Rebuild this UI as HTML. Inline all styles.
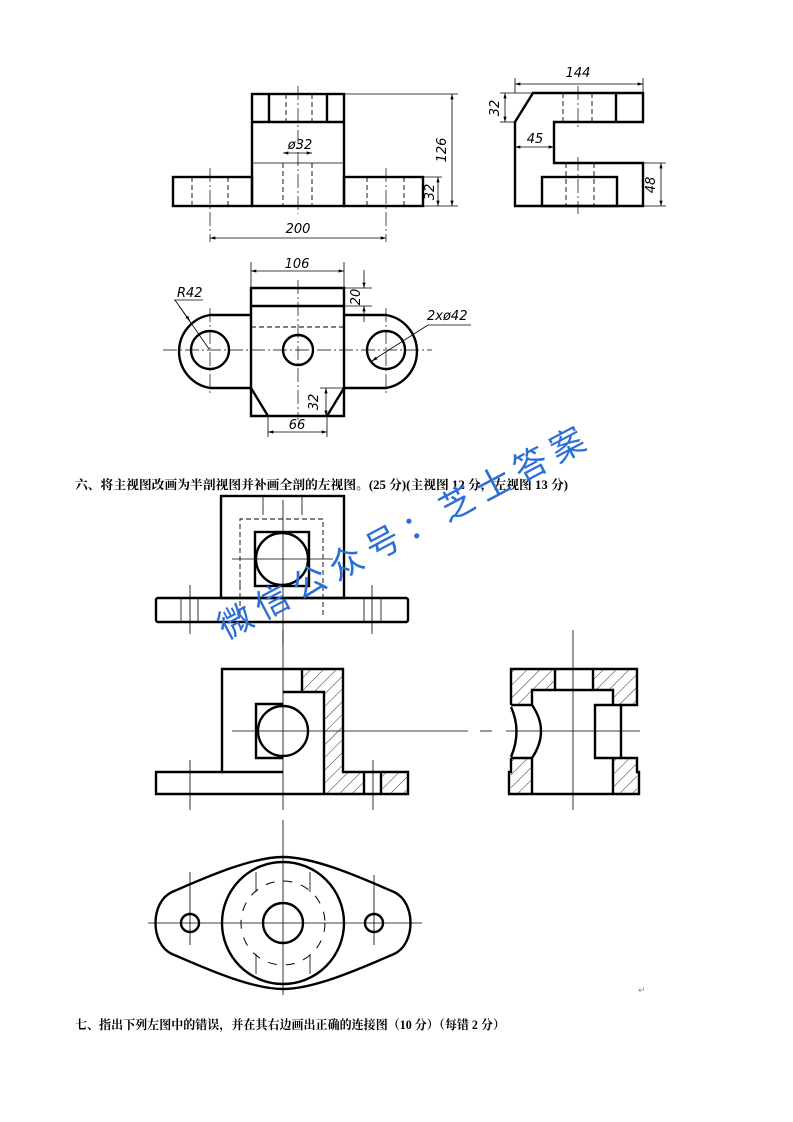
<!DOCTYPE html>
<html><head><meta charset="utf-8"><style>
html,body{margin:0;padding:0;background:#fff;}
svg{display:block;}
.k{stroke:#000;stroke-width:2.4;fill:none;}
.t{stroke:#000;stroke-width:0.8;fill:none;}
.d{stroke:#000;stroke-width:0.9;fill:none;stroke-dasharray:5 3;}
.c{stroke:#000;stroke-width:0.7;fill:none;stroke-dasharray:14 3 2 3;}
.h{stroke:#000;stroke-width:0.7;}
.dim{font-family:"DejaVu Sans","Liberation Sans",sans-serif;font-style:italic;font-size:13px;fill:#000;}
.ti{font-family:"Liberation Serif","Noto Serif CJK SC","Noto Sans CJK SC",serif;font-weight:bold;font-size:12.5px;fill:#000;}
</style></head><body>
<svg width="793" height="1122" viewBox="0 0 793 1122" xmlns="http://www.w3.org/2000/svg">
<defs>
<marker id="a" viewBox="0 0 10 6" refX="10" refY="3" markerWidth="7" markerHeight="4" orient="auto-start-reverse"><path d="M0,0L10,3L0,6z" fill="#000"/></marker>
<pattern id="hp" patternUnits="userSpaceOnUse" width="9" height="9" patternTransform="rotate(45)"><line x1="0" y1="0" x2="0" y2="9" stroke="#000" stroke-width="0.8"/></pattern>
</defs>

<!-- ===== Front view top ===== -->
<rect class="k" x="252" y="94" width="92" height="112"/>
<line class="k" x1="252" y1="122" x2="344" y2="122"/>
<line class="t" x1="252" y1="163" x2="344" y2="163"/>
<line class="k" x1="269" y1="94" x2="269" y2="122"/>
<line class="k" x1="327" y1="94" x2="327" y2="122"/>
<line class="d" x1="286" y1="94" x2="286" y2="122"/>
<line class="d" x1="312" y1="94" x2="312" y2="122"/>
<line class="d" x1="283" y1="163" x2="283" y2="206"/>
<line class="d" x1="312" y1="163" x2="312" y2="206"/>
<rect class="k" x="173" y="177" width="79" height="29"/>
<rect class="k" x="344" y="177" width="79" height="29"/>
<line class="d" x1="192" y1="177" x2="192" y2="206"/>
<line class="d" x1="228" y1="177" x2="228" y2="206"/>
<line class="d" x1="367" y1="177" x2="367" y2="206"/>
<line class="d" x1="404" y1="177" x2="404" y2="206"/>
<line class="c" x1="298" y1="86" x2="298" y2="214"/>
<line class="c" x1="210" y1="168" x2="210" y2="242"/>
<line class="c" x1="386" y1="168" x2="386" y2="242"/>
<line class="t" x1="210" y1="238" x2="386" y2="238" marker-start="url(#a)" marker-end="url(#a)"/>
<text class="dim" x="298" y="233" text-anchor="middle">200</text>
<line class="t" x1="283" y1="153" x2="312" y2="153" marker-start="url(#a)" marker-end="url(#a)"/>
<text class="dim" x="300" y="149" text-anchor="middle">ø32</text>
<line class="t" x1="344" y1="94" x2="458" y2="94"/>
<line class="t" x1="423" y1="206" x2="458" y2="206"/>
<line class="t" x1="423" y1="177" x2="442" y2="177"/>
<line class="t" x1="452" y1="94" x2="452" y2="206" marker-start="url(#a)" marker-end="url(#a)"/>
<text class="dim" transform="translate(446,150) rotate(-90)" text-anchor="middle">126</text>
<line class="t" x1="438" y1="177" x2="438" y2="206" marker-start="url(#a)" marker-end="url(#a)"/>
<text class="dim" transform="translate(434,192) rotate(-90)" text-anchor="middle">32</text>

<!-- ===== Side view top ===== -->
<path class="k" d="M533,93 L643,93 L643,122 L554,122 L554,163 L643,163 L643,206 L515,206 L515,122 Z"/>
<line class="k" x1="616" y1="93" x2="616" y2="122"/>
<rect class="k" x="542" y="177" width="75" height="29"/>
<line class="d" x1="563" y1="93" x2="563" y2="122"/>
<line class="d" x1="592" y1="93" x2="592" y2="122"/>
<line class="d" x1="566" y1="163" x2="566" y2="206"/>
<line class="d" x1="594" y1="163" x2="594" y2="206"/>
<line class="c" x1="578" y1="86" x2="578" y2="130"/>
<line class="c" x1="578" y1="157" x2="578" y2="214"/>
<line class="t" x1="515" y1="78" x2="515" y2="93"/>
<line class="t" x1="643" y1="78" x2="643" y2="93"/>
<line class="t" x1="515" y1="84" x2="643" y2="84" marker-start="url(#a)" marker-end="url(#a)"/>
<text class="dim" x="578" y="77" text-anchor="middle">144</text>
<line class="t" x1="500" y1="93" x2="533" y2="93"/>
<line class="t" x1="500" y1="122" x2="515" y2="122"/>
<line class="t" x1="505" y1="93" x2="505" y2="122" marker-start="url(#a)" marker-end="url(#a)"/>
<text class="dim" transform="translate(499,108) rotate(-90)" text-anchor="middle">32</text>
<line class="t" x1="515" y1="147" x2="554" y2="147" marker-start="url(#a)" marker-end="url(#a)"/>
<text class="dim" x="535" y="143" text-anchor="middle">45</text>
<line class="t" x1="643" y1="163" x2="666" y2="163"/>
<line class="t" x1="643" y1="206" x2="666" y2="206"/>
<line class="t" x1="661" y1="163" x2="661" y2="206" marker-start="url(#a)" marker-end="url(#a)"/>
<text class="dim" transform="translate(655,185) rotate(-90)" text-anchor="middle">48</text>

<!-- ===== Top view ===== -->
<path class="k" d="M251,315 L210,315 A37,37 0 0 0 210,388 L251,388"/>
<path class="k" d="M344,315 L386,315 A37,37 0 0 1 386,388 L344,388"/>
<path class="k" d="M251,288 L344,288 L344,416 L327,416 L268,416 L251,416 Z"/>
<line class="k" x1="251" y1="306" x2="344" y2="306"/>
<line class="k" x1="251" y1="388" x2="268" y2="416"/>
<line class="k" x1="344" y1="388" x2="327" y2="416"/>
<line class="d" x1="251" y1="327" x2="344" y2="327"/>
<circle class="k" cx="210" cy="350" r="19"/>
<circle class="k" cx="386" cy="350" r="19"/>
<circle class="k" cx="298" cy="350" r="15"/>
<line class="c" x1="163" y1="350" x2="432" y2="350"/>
<line class="c" x1="298" y1="280" x2="298" y2="420"/>
<line class="c" x1="210" y1="308" x2="210" y2="396"/>
<line class="c" x1="386" y1="308" x2="386" y2="396"/>
<line class="t" x1="251" y1="262" x2="251" y2="288"/>
<line class="t" x1="344" y1="262" x2="344" y2="288"/>
<line class="t" x1="251" y1="271" x2="344" y2="271" marker-start="url(#a)" marker-end="url(#a)"/>
<text class="dim" x="297" y="268" text-anchor="middle">106</text>
<line class="t" x1="344" y1="288" x2="372" y2="288"/>
<line class="t" x1="344" y1="306" x2="372" y2="306"/>
<line class="t" x1="364" y1="270" x2="364" y2="288" marker-end="url(#a)"/>
<line class="t" x1="364" y1="322" x2="364" y2="306" marker-end="url(#a)"/>
<text class="dim" transform="translate(360,297) rotate(-90)" text-anchor="middle">20</text>
<line class="t" x1="268" y1="416" x2="268" y2="437"/>
<line class="t" x1="327" y1="416" x2="327" y2="437"/>
<line class="t" x1="268" y1="432" x2="327" y2="432" marker-start="url(#a)" marker-end="url(#a)"/>
<text class="dim" x="297" y="429" text-anchor="middle">66</text>
<line class="t" x1="320" y1="388" x2="344" y2="388"/>
<line class="t" x1="326" y1="388" x2="326" y2="416" marker-start="url(#a)" marker-end="url(#a)"/>
<text class="dim" transform="translate(318,402) rotate(-90)" text-anchor="middle">32</text>
<line class="t" x1="174" y1="300" x2="203" y2="300"/>
<line class="t" x1="175" y1="300" x2="209" y2="349" />
<line class="t" x1="179" y1="306" x2="190" y2="321" marker-end="url(#a)"/>
<text class="dim" x="177" y="297" font-size="11">R42</text>
<line class="t" x1="370" y1="362" x2="428" y2="325"/>
<line class="t" x1="428" y1="325" x2="471" y2="325"/>
<line class="t" x1="378" y1="357" x2="372" y2="361" marker-end="url(#a)"/>
<text class="dim" x="427" y="320" font-size="12">2xø42</text>

<!-- ===== Title 六 ===== -->
<text class="ti" x="75" y="489" textLength="493" lengthAdjust="spacingAndGlyphs">六、将主视图改画为半剖视图并补画全剖的左视图。(25 分)(主视图 12 分，左视图 13 分)</text>

<!-- ===== Given front view ===== -->
<rect class="k" x="221" y="496" width="123" height="102"/>
<rect class="k" x="156" y="598" width="252" height="24" rx="2"/>
<rect class="k" x="255" y="532" width="54" height="54"/>
<circle class="k" cx="282" cy="559" r="26"/>
<path class="d" d="M240,585 L240,519 L323,519 L323,615"/>
<line class="d" x1="240" y1="585" x2="240" y2="615"/>
<line class="t" x1="263" y1="496" x2="263" y2="515"/>
<line class="t" x1="302" y1="496" x2="302" y2="515"/>
<line class="t" x1="232" y1="559" x2="333" y2="559"/>
<line class="t" x1="283" y1="500" x2="283" y2="645"/>
<line class="t" x1="181" y1="598" x2="181" y2="622"/>
<line class="t" x1="198" y1="598" x2="198" y2="622"/>
<line class="t" x1="364" y1="598" x2="364" y2="622"/>
<line class="t" x1="381" y1="598" x2="381" y2="622"/>
<line class="t" x1="190" y1="585" x2="190" y2="634"/>
<line class="t" x1="372" y1="585" x2="372" y2="634"/>

<!-- ===== Section front view ===== -->
<path d="M302,669 L343,669 L343,772 L408,772 L408,794 L324,794 L324,692 L302,692 Z" fill="url(#hp)"/>
<rect x="364" y="772" width="17" height="22" fill="#fff"/>
<path class="k" d="M283,669 L222,669 L222,772 L156,772 L156,794 L283,794"/>
<path class="k" d="M283,669 L343,669 L343,772 L408,772 L408,794 L283,794"/>
<line class="k" x1="302" y1="669" x2="302" y2="692"/>
<path class="k" d="M283,692 L324,692 L324,794"/>
<line class="k" x1="364" y1="772" x2="364" y2="794"/>
<line class="k" x1="381" y1="772" x2="381" y2="794"/>
<line class="k" x1="222" y1="772" x2="283" y2="772"/>
<path class="k" d="M283,704 L256,704 L256,758 L283,758"/>
<path class="k" d="M283,706 A25,25 0 0 0 283,756"/>
<path class="k" d="M283,706 A25,25 0 0 1 283,756"/>
<line class="t" x1="283" y1="630" x2="283" y2="810"/>
<line class="t" x1="232" y1="731" x2="468" y2="731"/>
<line class="t" x1="480" y1="731" x2="492" y2="731"/>
<line class="t" x1="506" y1="731" x2="640" y2="731"/>
<line class="t" x1="190" y1="760" x2="190" y2="810"/>
<line class="t" x1="373" y1="760" x2="373" y2="810"/>

<!-- ===== Section side view ===== -->
<path d="M511,669 L555,669 L555,690 L532,690 L532,705 L511,705 Z" fill="url(#hp)"/>
<path d="M593,669 L637,669 L637,705 L613,705 L613,690 L593,690 Z" fill="url(#hp)"/>
<path d="M511,758 L532,758 L532,794 L511,794 Z" fill="url(#hp)"/>
<path d="M613,758 L637,758 L637,794 L613,794 Z" fill="url(#hp)"/>
<path class="k" d="M511,705 L511,669 L637,669 L637,705 L621,705 L621,758 L637,758 L637,772 L639,772 L639,794 L509,794 L509,772 L511,772 L511,758"/>
<path class="k" d="M511,707 Q522,731 511,757"/>
<path class="k" d="M532,705 Q550,731 532,758"/>
<line class="k" x1="511" y1="705" x2="532" y2="705"/>
<line class="k" x1="511" y1="758" x2="532" y2="758"/>
<path class="k" d="M532,705 L532,690 L613,690 L613,705"/>
<line class="k" x1="555" y1="669" x2="555" y2="690"/>
<line class="k" x1="593" y1="669" x2="593" y2="690"/>
<path class="k" d="M621,705 L595,705 L595,758 L621,758"/>
<line class="k" x1="532" y1="758" x2="532" y2="794"/>
<line class="k" x1="613" y1="758" x2="613" y2="794"/>
<line class="t" x1="573" y1="630" x2="573" y2="810"/>

<!-- ===== Bottom view ===== -->
<path class="k" d="M283,857 C250,857 200,880 172,892 C150,902 150,944 172,954 C200,966 250,989 283,989 C316,989 366,966 394,954 C416,944 416,902 394,892 C366,880 316,857 283,857 Z"/>
<circle class="k" cx="283" cy="923" r="61"/>
<circle class="k" cx="283" cy="923" r="20"/>
<circle class="k" cx="190" cy="923" r="9"/>
<circle class="k" cx="374" cy="923" r="9"/>
<circle cx="283" cy="923" r="42" fill="none" stroke="#000" stroke-width="1" stroke-dasharray="9 9"/>
<line class="t" x1="256" y1="872" x2="256" y2="892"/>
<line class="t" x1="310" y1="872" x2="310" y2="892"/>
<line class="t" x1="256" y1="954" x2="256" y2="974"/>
<line class="t" x1="310" y1="954" x2="310" y2="974"/>
<line class="t" x1="283" y1="820" x2="283" y2="995"/>
<line class="t" x1="148" y1="923" x2="422" y2="923"/>
<line class="t" x1="190" y1="872" x2="190" y2="945"/>
<line class="t" x1="374" y1="875" x2="374" y2="945"/>
<text x="638" y="993" font-size="9" fill="#888" font-family="DejaVu Sans,sans-serif">↵</text>

<!-- Watermark -->
<text transform="translate(226,640) rotate(-28)" font-family="'Noto Sans CJK SC','WenQuanYi Zen Hei',sans-serif" font-size="34" fill="#2a6fd6" textLength="410" lengthAdjust="spacing">微信公众号：芝士答案</text>

<!-- ===== Title 七 ===== -->
<text class="ti" x="75" y="1029" textLength="430" lengthAdjust="spacingAndGlyphs">七、指出下列左图中的错误，并在其右边画出正确的连接图（10 分）（每错 2 分）</text>
</svg>
</body></html>
